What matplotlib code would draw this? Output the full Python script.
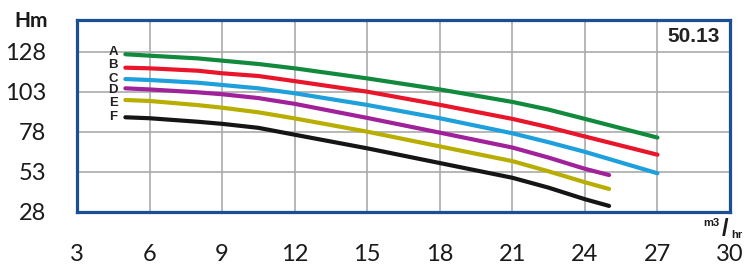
import matplotlib
matplotlib.use('Agg')
import matplotlib.pyplot as plt

# flow (m3/hr) and head (m)
q_long = [5, 6, 8, 9, 10.5, 12, 15, 18, 21, 22.5, 24, 27]
q_short = [5, 6, 8, 9, 10.5, 12, 15, 18, 21, 22.5, 24, 25]

head_a = [126.6, 125.7, 124.0, 122.6, 120.5, 117.8, 111.5, 104.6, 96.8, 92.0, 86.2, 74.5]
head_b = [118.2, 117.8, 116.3, 114.7, 113.0, 109.8, 103.2, 95.0, 86.2, 81.0, 75.2, 63.8]
head_c = [111.1, 110.5, 108.8, 107.4, 105.3, 102.2, 94.9, 86.6, 77.2, 71.6, 65.6, 52.2]
head_d = [105.3, 104.6, 102.8, 101.6, 99.2, 95.6, 86.8, 77.6, 68.3, 62.0, 55.0, 51.1]
head_e = [98.0, 97.4, 94.8, 93.2, 90.3, 86.5, 78.2, 69.0, 59.8, 53.4, 46.6, 42.4]
head_f = [87.2, 86.6, 84.4, 83.1, 80.6, 76.3, 67.8, 58.6, 49.4, 43.2, 36.0, 31.8]

curve_names = ['A', 'B', 'C', 'D', 'E', 'F']
label_y = [128.0, 119.9, 111.0, 104.3, 96.0, 87.2]
colors = ['#128a3e', '#e8152b', '#1ea0dc', '#a0219a', '#b8ae00', '#151515']

x_ticks = [3, 6, 9, 12, 15, 18, 21, 24, 27, 30]
y_ticks = [28, 53, 78, 103, 128]
model = '50.13'

fig = plt.figure(figsize=(7.55, 2.7), dpi=100)
ax = fig.add_axes([77 / 755, 58 / 270, 653 / 755, 192 / 270])

series = [(q_long, head_a), (q_long, head_b), (q_long, head_c),
          (q_short, head_d), (q_short, head_e), (q_short, head_f)]
for (q, h), c in zip(series, colors):
    ax.plot(q, h, color=c, lw=3, solid_capstyle='round',
            solid_joinstyle='round', zorder=3)

for name, y in zip(curve_names, label_y):
    ax.text(4.5, y, name, ha='center', va='center', fontsize=9.5,
            fontweight='bold', family='Liberation Sans', color='#222222')

ax.set_xlim(3, 30)
ax.set_ylim(28, 148)
ax.set_xticks(x_ticks)
ax.set_yticks(y_ticks)
ax.grid(True, color='#aaaaaa', lw=1.2)
ax.tick_params(length=0, labelsize=17, labelcolor='#1a1a1a')
ax.tick_params(axis='x', pad=23)
ax.tick_params(axis='y', pad=22)
for lbl in ax.get_xticklabels() + ax.get_yticklabels():
    lbl.set_family('Lato')
for s in ax.spines.values():
    s.set_color('#1b4f93')
    s.set_linewidth(2.3)
    s.set_zorder(4)

ax.text(28.5, 138, model, ha='center', va='center', fontsize=15,
        fontweight='bold', family='Liberation Sans', color='#222222')

fig.text(31 / 755, 1 - 21 / 270, 'Hm', ha='center', va='center',
         fontsize=15, fontweight='bold', family='Lato', color='#1a1a1a')
fig.text(711 / 755, 1 - 223 / 270, 'm3', ha='center', va='center',
         fontsize=8, fontweight='bold', family='Liberation Sans', color='#1a1a1a')
fig.text(725 / 755, 1 - 229 / 270, '/', ha='center', va='center',
         fontsize=17, fontweight='bold', family='Liberation Sans', color='#1a1a1a')
fig.text(737 / 755, 1 - 235 / 270, 'hr', ha='center', va='center',
         fontsize=8, fontweight='bold', family='Liberation Sans', color='#1a1a1a')

fig.savefig('out.png', dpi=100)
